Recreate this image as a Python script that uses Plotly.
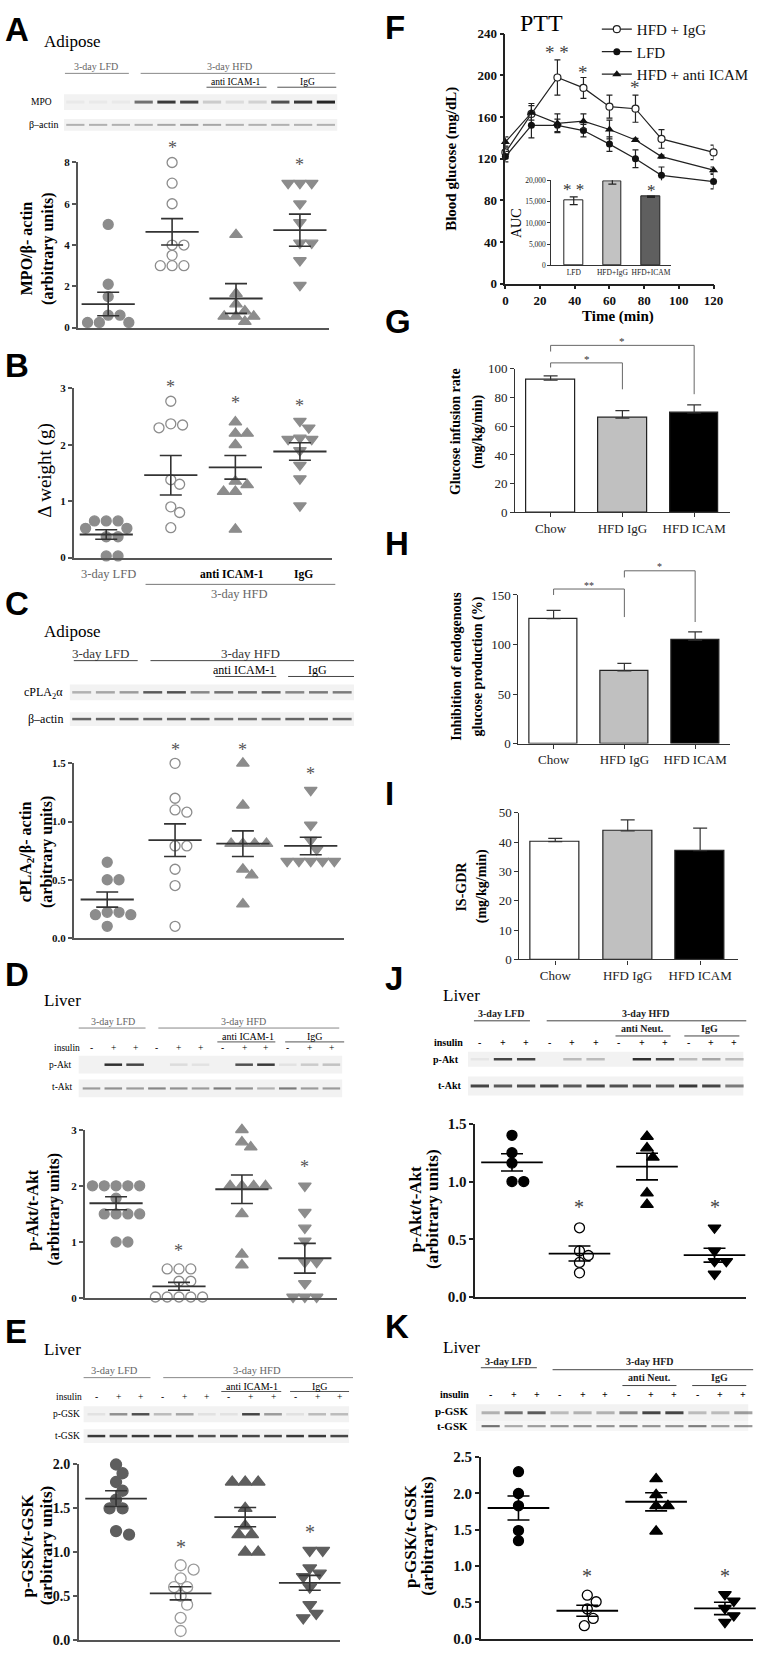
import plotly.graph_objects as go

W, H = 772, 1655
SERIF = "Liberation Serif"
SANS = "Liberation Sans"

# ===================== DATA =====================
groups_bar = ["Chow", "HFD IgG", "HFD ICAM"]

# A  MPO / beta-actin (adipose)
A_lfd = [5.0, 2.1, 1.5, 0.6, 0.6, 0.25, 0.25, 0.25]
A_hfd = [8.0, 7.0, 6.0, 4.0, 4.0, 3.5, 3.0, 3.0, 3.0]
A_anti = [4.5, 1.65, 1.14, 0.8, 0.54, 0.54, 0.54, 0.29]
A_igg = [7.0, 7.0, 7.0, 6.0, 5.1, 4.1, 4.1, 3.25, 2.05]
A_mean = [1.14, 4.64, 1.41, 4.72]
A_sem = [0.57, 0.64, 0.72, 0.78]
A_star = [None, 8.85, None, 8.05]

# B  delta weight
B_lfd = [0.65, 0.65, 0.65, 0.52, 0.52, 0.37, 0.37, 0.03, 0.03]
B_hfd = [2.77, 2.37, 2.35, 2.30, 1.38, 1.30, 0.90, 0.80, 0.53]
B_anti = [2.40, 2.20, 2.20, 2.00, 1.35, 1.29, 1.17, 1.17, 0.50]
B_igg = [2.42, 2.30, 2.12, 2.10, 2.10, 1.90, 1.64, 1.40, 0.92]
B_mean = [0.41, 1.46, 1.60, 1.88]
B_sem = [0.085, 0.35, 0.21, 0.155]
B_star = [None, 3.08, 2.80, 2.75]

# C  cPLA2 / beta-actin
C_lfd = [0.65, 0.50, 0.50, 0.22, 0.22, 0.20, 0.20, 0.10]
C_hfd = [1.50, 1.20, 1.10, 1.08, 0.79, 0.79, 0.59, 0.45, 0.10]
C_anti = [1.50, 1.14, 0.81, 0.81, 0.81, 0.81, 0.59, 0.54, 0.29]
C_igg = [1.27, 0.97, 0.84, 0.76, 0.66, 0.66, 0.66, 0.66, 0.66]
C_mean = [0.33, 0.84, 0.81, 0.79]
C_sem = [0.065, 0.14, 0.11, 0.075]
C_star = [None, 1.64, 1.64, 1.44]

# D  p-Akt / t-Akt (liver, anti ICAM-1)
D_lfd = [2.0, 2.0, 2.0, 2.0, 2.0, 1.78, 1.5, 1.5, 1.5, 1.5, 1.0, 1.0]
D_hfd = [0.52, 0.52, 0.52, 0.30, 0.30, 0.02, 0.02, 0.02, 0.02, 0.02]
D_anti = [3.0, 2.78, 2.69, 2.0, 2.0, 2.0, 2.0, 1.5, 0.78, 0.59]
D_igg = [2.0, 1.53, 1.25, 1.02, 0.64, 0.64, 0.26, 0.02, 0.02, 0.02]
D_mean = [1.69, 0.21, 1.94, 0.71]
D_sem = [0.115, 0.07, 0.255, 0.265]
D_star = [None, 0.90, None, 2.40]

# E  p-GSK / t-GSK (liver, anti ICAM-1)
E_lfd = [2.0, 1.9, 1.8, 1.7, 1.6, 1.5, 1.5, 1.24, 1.2]
E_hfd = [0.85, 0.80, 0.70, 0.60, 0.60, 0.50, 0.40, 0.25, 0.10]
E_anti = [1.8, 1.8, 1.8, 1.5, 1.3, 1.2, 1.2, 1.0, 1.0]
E_igg = [1.02, 1.02, 0.82, 0.76, 0.72, 0.60, 0.40, 0.30, 0.25]
E_mean = [1.61, 0.53, 1.40, 0.65]
E_sem = [0.09, 0.075, 0.11, 0.085]
E_star = [None, 1.10, None, 1.27]

# F  PTT
time_min = [0, 15, 30, 45, 60, 75, 90, 120]
F_igg = [126, 163, 198, 188, 170, 168, 139, 126]
F_igg_err = [6, 10, 17, 10, 11, 13, 9, 7]
F_lfd = [122, 152, 152, 147, 134, 120, 104, 98]
F_lfd_err = [5, 12, 6, 6, 7, 8.5, 8, 7]
F_anti = [136, 164, 154, 156, 148, 138, 122, 109]
F_anti_err = [5, 7, 9, 7, 9, 1.5, 1.5, 3]
F_star_t = [30, 45, 75]
F_star_y = [225, 206, 191]
F_star_txt = ["* *", "*", "*"]
auc_groups = ["LFD", "HFD+IgG", "HFD+ICAM"]
auc = [15200, 19800, 16150]
auc_err = [900, 700, 150]
auc_star = ["* *", "", "*"]
auc_star_y = [18600, None, 18400]

# G  glucose infusion rate
gir = [92.0, 65.7, 69.2]
gir_err = [3.0, 5.1, 5.7]
# H  inhibition of endogenous glucose production
egp = [126.0, 73.4, 104.4]
egp_err = [8.4, 7.6, 8.3]
# I  IS-GDR
isgdr = [40.2, 43.8, 37.1]
isgdr_err = [1.1, 3.8, 7.7]

# J  p-Akt / t-Akt (liver, anti Neut.)
J_lfd = [1.40, 1.25, 1.16, 1.00, 1.00]
J_hfd = [0.60, 0.40, 0.36, 0.30, 0.21]
J_anti = [1.39, 1.29, 1.21, 0.90, 0.80]
J_igg = [0.60, 0.40, 0.31, 0.31, 0.20]
J_mean = [1.166, 0.377, 1.13, 0.363]
J_sem = [0.075, 0.065, 0.115, 0.06]
J_star = [None, 0.81, None, 0.81]

# K  p-GSK / t-GSK (liver, anti Neut.)
K_lfd = [2.30, 2.00, 1.83, 1.49, 1.35]
K_hfd = [0.60, 0.51, 0.41, 0.28, 0.18]
K_anti = [2.20, 1.98, 1.83, 1.83, 1.48]
K_igg = [0.61, 0.52, 0.42, 0.32, 0.23]
K_mean = [1.80, 0.386, 1.886, 0.418]
K_sem = [0.165, 0.075, 0.125, 0.085]
K_star = [None, 0.91, None, 0.91]

# western blot band intensities (12 lanes)
insulin_signs = ["-", "+", "+", "-", "+", "+", "-", "+", "+", "-", "+", "+"]
A_mpo = [0.04, 0.04, 0.04, 0.6, 0.85, 0.8, 0.18, 0.1, 0.15, 0.75, 0.85, 0.95]
A_actin = [0.3, 0.3, 0.3, 0.3, 0.35, 0.4, 0.35, 0.3, 0.3, 0.3, 0.3, 0.3]
C_cpla = [0.3, 0.35, 0.4, 0.7, 0.75, 0.5, 0.6, 0.6, 0.65, 0.5, 0.55, 0.55]
C_actin = [0.65, 0.65, 0.65, 0.65, 0.65, 0.65, 0.6, 0.6, 0.6, 0.65, 0.65, 0.65]
D_pakt = [0.0, 0.9, 0.8, 0.0, 0.1, 0.07, 0.0, 0.75, 0.85, 0.07, 0.18, 0.22]
D_takt = [0.4, 0.45, 0.4, 0.5, 0.45, 0.4, 0.55, 0.45, 0.3, 0.55, 0.4, 0.4]
E_pgsk = [0.07, 0.45, 0.75, 0.25, 0.35, 0.08, 0.07, 0.8, 0.4, 0.08, 0.25, 0.25]
E_tgsk = [0.85, 0.8, 0.85, 0.85, 0.8, 0.75, 0.8, 0.8, 0.8, 0.85, 0.85, 0.8]
J_pakt = [0.05, 0.8, 0.8, 0.0, 0.25, 0.25, 0.0, 0.9, 0.8, 0.25, 0.35, 0.25]
J_takt = [0.8, 0.7, 0.75, 0.8, 0.7, 0.8, 0.75, 0.75, 0.7, 0.85, 0.8, 0.55]
K_pgsk = [0.3, 0.6, 0.7, 0.25, 0.3, 0.3, 0.5, 0.8, 0.8, 0.25, 0.25, 0.4]
K_tgsk = [0.6, 0.35, 0.4, 0.45, 0.45, 0.45, 0.5, 0.45, 0.45, 0.55, 0.4, 0.45]

# ===================== HELPERS =====================
fig = go.Figure()
layout = {}
annotations = []
shapes = []
_axn = [0]
AXMAP = {}


def px(x):
    return x / W


def py(y):
    return 1 - y / H


def T(x, y, s, size=10, color="#000", bold=False, xanchor="center", family=SERIF, angle=0):
    if bold:
        s = "<b>" + s + "</b>"
    annotations.append(dict(x=px(x), y=py(y), xref="paper", yref="paper", text=s, showarrow=False,
                            xanchor=xanchor, yanchor="middle", textangle=angle,
                            font=dict(size=size, color=color, family=family)))


def L(x0, y0, x1, y1, color="#666", width=1):
    shapes.append(dict(type="line", xref="paper", yref="paper", x0=px(x0), y0=py(y0), x1=px(x1), y1=py(y1),
                       line=dict(color=color, width=width)))


def R(x0, y0, x1, y1, fill):
    shapes.append(dict(type="rect", xref="paper", yref="paper", x0=px(x0), y0=py(y0), x1=px(x1), y1=py(y1),
                       fillcolor=fill, line=dict(width=0), layer="below"))


def blot(x0, x1, y0, y1, intens, centers=None, band_h=2.5, bg="#f2f2f2"):
    R(x0, y0, x1, y1, bg)
    n = len(intens)
    lw = (x1 - x0) / n
    if centers is None:
        centers = [x0 + lw * (i + 0.5) for i in range(n)]
    cy = (y0 + y1) / 2
    for c, a in zip(centers, intens):
        if a > 0.01:
            R(c - lw * 0.4, cy - band_h / 2, c + lw * 0.4, cy + band_h / 2, "rgba(25,25,25,%.2f)" % a)


def lanes(first, last, n=12):
    return [first + (last - first) * i / (n - 1) for i in range(n)]


def make_axes(xpx, ypx, xr, yr, xs, ys):
    _axn[0] += 1
    n = _axn[0]
    s = "" if n == 1 else str(n)
    layout["xaxis" + s] = dict(domain=[px(xpx[0]), px(xpx[1])], range=xr, anchor="y" + s, **xs)
    layout["yaxis" + s] = dict(domain=[py(ypx[1]), py(ypx[0])], range=yr, anchor="x" + s, **ys)
    AXMAP["x" + s] = (xpx, xr)
    AXMAP["y" + s] = (ypx, yr)
    return "x" + s, "y" + s


def dx(xa, v):
    (p0, p1), (r0, r1) = AXMAP[xa]
    return p0 + (v - r0) / (r1 - r0) * (p1 - p0)


def dy(ya, v):
    (p0, p1), (r0, r1) = AXMAP[ya]
    return p1 - (v - r0) / (r1 - r0) * (p1 - p0)


def swarm(vals, ppu_y, ppu_x, ms):
    order = sorted(range(len(vals)), key=lambda i: -vals[i])
    placed = []
    offs = [0.0] * len(vals)
    step = ms * 0.3
    cands = sorted([k * step for k in range(-12, 13)], key=lambda o: (abs(o), o < 0))
    for i in order:
        yy = vals[i] * ppu_y
        for o in cands:
            ok = True
            for (ox, oy) in placed:
                if (ox - o) ** 2 + (oy - yy) ** 2 < (ms * 1.0) ** 2:
                    ok = False
                    break
            if ok:
                break
        placed.append((o, yy))
        offs[i] = o / ppu_x
    return offs


SYMS = ["circle", "circle", "triangle-up", "triangle-down"]


def dot_panel(vals_list, means, sems, stars, xpx, ypx, centers, yr, ytickvals, ytickfmt, st):
    d = (centers[-1] - centers[0]) / (len(centers) - 1)
    xr = [1 + (xpx[0] - centers[0]) / d, 1 + (xpx[1] - centers[0]) / d]
    ppu_y = (ypx[1] - ypx[0]) / (yr[1] - yr[0])
    ac = st["axis"]
    xs = dict(showgrid=False, zeroline=False, showline=True, linecolor=ac, linewidth=1.5,
              ticks="", showticklabels=False)
    ys = dict(showgrid=False, zeroline=False, showline=True, linecolor=ac, linewidth=1.5,
              ticks="outside", ticklen=4, tickwidth=1.5, tickcolor=ac, tickvals=ytickvals,
              tickformat=ytickfmt,
              tickfont=dict(family=SERIF, size=st["tick"], color="#111", weight="bold"))
    xa, ya = make_axes(xpx, ypx, xr, yr, xs, ys)
    ms = st["ms"]
    for g, vals in enumerate(vals_list):
        offs = swarm(vals, ppu_y, d, ms)
        fig.add_trace(go.Scatter(
            x=[g + 1 + o for o in offs], y=vals, mode="markers", xaxis=xa, yaxis=ya,
            showlegend=False, cliponaxis=False, hoverinfo="skip",
            marker=dict(symbol=SYMS[g], size=ms + (1 if g >= 2 else 0), color=st["fill"][g],
                        line=dict(color=st["edge"][g], width=1.3))))
    fig.add_trace(go.Scatter(
        x=list(range(1, len(means) + 1)), y=means, mode="markers", xaxis=xa, yaxis=ya,
        showlegend=False, cliponaxis=False, hoverinfo="skip",
        marker=dict(symbol="line-ew", size=st["meanw"], color=st["mean"],
                    line=dict(color=st["mean"], width=1.8)),
        error_y=dict(type="data", array=sems, visible=True, width=st["cap"], thickness=1.6,
                     color=st["mean"])))
    for g, yv in enumerate(stars):
        if yv is not None:
            T(dx(xa, g + 1), dy(ya, yv) + st["star"] * 0.18, "*", size=st["star"], color=st["starc"])
    return xa, ya


GR = "#8c8c8c"
st_gray = dict(axis="#555", fill=[GR, "white", GR, GR], edge=[GR, GR, GR, GR], mean="#333",
               ms=10, tick=11, meanw=38, cap=11, star=18, starc="#555")
DG = "#5e5e5e"
st_dark = dict(axis="#555", fill=[DG, "white", DG, DG], edge=[DG, "#9a9a9a", DG, DG], mean="#333",
               ms=11, tick=14, meanw=44, cap=11, star=20, starc="#555")
st_black = dict(axis="#222", fill=["black", "white", "black", "black"],
                edge=["black", "black", "black", "black"], mean="black",
                ms=10, tick=15, meanw=44, cap=11, star=20, starc="#444")

# ===================== PANEL LETTERS =====================
for lt, x, y in [("A", 0, 22), ("B", 0, 361), ("C", 0, 601), ("D", 0, 976), ("E", 0, 1336),
                 ("F", 386, 20), ("G", 386, 317), ("H", 386, 541), ("I", 386, 793),
                 ("J", 386, 980), ("K", 386, 1331)]:
    T(x, y, lt, size=33, bold=True, xanchor="left", family=SANS)

# ===================== PANEL A =====================
T(40, 34, "Adipose", size=17, xanchor="left")
T(95, 59, "3-day LFD", size=10, color="#666")
L(63, 66, 128, 66, "#888")
T(230, 59, "3-day HFD", size=10, color="#666")
L(140, 66, 338, 66, "#888")
T(237, 75, "anti ICAM-1", size=9.5)
L(207, 80, 268, 80, "#555")
T(310, 75, "IgG", size=9.5)
L(279, 80, 339, 80, "#555")
T(52, 95, "MPO", size=9.5, xanchor="right")
T(59, 118, "β–actin", size=10, xanchor="right")
blot(62, 340, 87, 103, A_mpo, band_h=3)
blot(62, 340, 112, 124, A_actin, band_h=2)
dot_panel([A_lfd, A_hfd, A_anti, A_igg], A_mean, A_sem, A_star,
          [76, 332], [156, 322.7], [107, 172, 236, 302], [0, 8], [0, 2, 4, 6, 8], "d", st_gray)
T(24, 243, "MPO/β- actin", size=16, bold=True, angle=-90)
T(45, 243, "(arbitrary units)", size=16, bold=True, angle=-90)

# ===================== PANEL B =====================
dot_panel([B_lfd, B_hfd, B_anti, B_igg], B_mean, B_sem, B_star,
          [72, 335], [384, 555], [105, 171, 237, 302], [0, 3], [0, 1, 2, 3], "d", st_gray)
T(43, 467, "Δ weight (g)", size=19, angle=-90)
T(107, 572, "3-day LFD", size=12.5, color="#666")
T(233, 572, "anti ICAM-1", size=11.5, bold=True)
T(306, 572, "IgG", size=11.5, bold=True)
L(145, 582, 338, 582, "#777")
T(241, 592, "3-day HFD", size=12.5, color="#666")

# ===================== PANEL C =====================
T(40, 630, "Adipose", size=17, xanchor="left")
T(99, 652, "3-day LFD", size=13, color="#333")
L(72, 659, 137, 659, "#444")
T(252, 652, "3-day HFD", size=13, color="#333")
L(150, 659, 357, 659, "#444")
T(245, 668, "anti ICAM-1", size=12)
L(216, 675, 278, 675, "#444")
T(320, 668, "IgG", size=12)
L(290, 675, 357, 675, "#444")
T(63, 692, "cPLA<sub>2</sub>α", size=12, xanchor="right")
T(63, 718, "β–actin", size=12, xanchor="right")
blot(68, 357, 683, 699, C_cpla, band_h=2.5)
blot(68, 357, 711, 725, C_actin, band_h=2.5)
dot_panel([C_lfd, C_hfd, C_anti, C_igg], C_mean, C_sem, C_star,
          [72, 347], [762.7, 939], [106, 173, 244, 313], [0, 1.5], [0, 0.5, 1.0, 1.5], ".1f", st_gray)
T(24, 852, "cPLA<sub>2</sub>/β- actin", size=16, bold=True, angle=-90)
T(45, 852, "(arbitrary units)", size=16, bold=True, angle=-90)

# ===================== PANEL D =====================
T(40, 1002, "Liver", size=17, xanchor="left")
T(112, 1023, "3-day LFD", size=10, color="#666")
L(77, 1030, 145, 1030, "#888")
T(245, 1023, "3-day HFD", size=10, color="#666")
L(158, 1030, 342, 1030, "#888")
T(249, 1039, "anti ICAM-1", size=10)
L(218, 1044, 277, 1044, "#555")
T(317, 1039, "IgG", size=10)
L(287, 1044, 347, 1044, "#555")
D_lanes = lanes(90, 334)
T(80, 1050, "insulin", size=9.5, xanchor="right")
for xl, s in zip(D_lanes, insulin_signs):
    T(xl, 1050, s, size=9.5)
T(72, 1067, "p-Akt", size=9.5, xanchor="right")
T(72, 1090, "t-Akt", size=9.5, xanchor="right")
blot(77, 345, 1058, 1076, D_pakt, centers=D_lanes, band_h=2.5)
blot(77, 345, 1082, 1100, D_takt, centers=D_lanes, band_h=2.2)
dot_panel([D_lfd, D_hfd, D_anti, D_igg], D_mean, D_sem, D_star,
          [83, 340], [1132.7, 1302.7], [115, 180, 244, 307], [0, 3], [0, 1, 2, 3], "d", st_gray)
T(31, 1213, "p-Akt/t-Akt", size=16, bold=True, angle=-90)
T(52, 1213, "(arbitrary units)", size=16, bold=True, angle=-90)

# ===================== PANEL E =====================
T(40, 1355, "Liver", size=17, xanchor="left")
T(113, 1376, "3-day LFD", size=10.5, color="#666")
L(82, 1383, 150, 1383, "#888")
T(258, 1376, "3-day HFD", size=10.5, color="#666")
L(163, 1383, 356, 1383, "#888")
T(253, 1392, "anti ICAM-1", size=10)
L(222, 1397, 283, 1397, "#555")
T(322, 1392, "IgG", size=10)
L(292, 1397, 352, 1397, "#555")
E_lanes = lanes(95, 342)
T(82, 1403, "insulin", size=9.5, xanchor="right")
for xl, s in zip(E_lanes, insulin_signs):
    T(xl, 1403, s, size=9.5)
T(80, 1420, "p-GSK", size=9.5, xanchor="right")
T(80, 1442, "t-GSK", size=9.5, xanchor="right")
blot(82, 352, 1412, 1428, E_pgsk, centers=E_lanes, band_h=2.5)
blot(82, 352, 1435, 1449, E_tgsk, centers=E_lanes, band_h=2.5)
dot_panel([E_lfd, E_hfd, E_anti, E_igg], E_mean, E_sem, E_star,
          [77, 343], [1470.7, 1647.7], [115, 180, 246, 312], [0, 2], [0, 0.5, 1.0, 1.5, 2.0], ".1f", st_dark)
T(25, 1553, "p-GSK/t-GSK", size=17, bold=True, angle=-90)
T(45, 1553, "(arbitrary units)", size=17, bold=True, angle=-90)

# ===================== PANEL F =====================
axstyle_F = dict(showgrid=False, zeroline=False, showline=True, linecolor="#222", linewidth=1.5,
                 ticks="outside", ticklen=4, tickwidth=1.5, tickcolor="#222",
                 tickfont=dict(family=SERIF, size=13, color="#111", weight="bold"))
fxa, fya = make_axes([511, 722.7], [26, 278.3], [0, 120], [0, 240],
                     dict(axstyle_F, tickvals=[0, 20, 40, 60, 80, 100, 120]),
                     dict(axstyle_F, tickvals=[0, 40, 80, 120, 160, 200, 240]))
fig.add_trace(go.Scatter(x=time_min, y=F_igg, name="HFD + IgG", mode="lines+markers", xaxis=fxa, yaxis=fya,
                         cliponaxis=False, line=dict(color="#222", width=1.2),
                         marker=dict(symbol="circle", size=7, color="white", line=dict(color="#222", width=1.2)),
                         error_y=dict(type="data", array=F_igg_err, visible=True, width=3, thickness=1.2,
                                      color="#222")))
fig.add_trace(go.Scatter(x=time_min, y=F_lfd, name="LFD", mode="lines+markers", xaxis=fxa, yaxis=fya,
                         cliponaxis=False, line=dict(color="#222", width=1.2),
                         marker=dict(symbol="circle", size=7, color="#111"),
                         error_y=dict(type="data", array=F_lfd_err, visible=True, width=3, thickness=1.2,
                                      color="#222")))
fig.add_trace(go.Scatter(x=time_min, y=F_anti, name="HFD + anti ICAM", mode="lines+markers", xaxis=fxa,
                         yaxis=fya, cliponaxis=False, line=dict(color="#222", width=1.2),
                         marker=dict(symbol="triangle-up", size=8, color="#111"),
                         error_y=dict(type="data", array=F_anti_err, visible=True, width=3, thickness=1.2,
                                      color="#222")))
for t_, y_, s_ in zip(F_star_t, F_star_y, F_star_txt):
    T(dx(fxa, t_), dy(fya, y_) + 3, s_, size=19, color="#444")
T(548, 15, "PTT", size=24)
T(456, 152, "Blood glucose (mg/dL)", size=15, bold=True, angle=-90)
T(626, 312, "Time (min)", size=15, bold=True)

# inset AUC
inset_ax = dict(showgrid=False, zeroline=False, showline=True, linecolor="#333", linewidth=1,
                ticks="outside", ticklen=3, tickwidth=1, tickcolor="#333",
                tickfont=dict(family=SERIF, size=7.5, color="#222"))
ixa, iya = make_axes([557.7, 679], [174, 260], [-0.58, 2.506], [0, 20000],
                     dict(inset_ax, tickvals=[0, 1, 2], ticktext=auc_groups, ticks=""),
                     dict(inset_ax, tickvals=[0, 5000, 10000, 15000, 20000], tickformat=","))
fig.add_trace(go.Bar(x=[0, 1, 2], y=auc, width=0.48, xaxis=ixa, yaxis=iya, showlegend=False,
                     marker=dict(color=["white", "#c2c2c2", "#5f5f5f"], line=dict(color="#222", width=1)),
                     error_y=dict(type="data", array=auc_err, visible=True, width=4, thickness=1.2,
                                  color="#222")))
for i, (s_, y_) in enumerate(zip(auc_star, auc_star_y)):
    if s_:
        T(dx(ixa, i), dy(iya, y_) + 3, s_, size=17, color="#333")
T(523, 217, "AUC", size=14, angle=-90)

# ===================== BAR PANELS G, H, I =====================
bar_colors = ["white", "#c0c0c0", "black"]


def bar_panel(vals, errs, xpx, ypx, xr, yr, ytick):
    ax = dict(showgrid=False, zeroline=False, showline=True, linecolor="#333", linewidth=1.2,
              ticks="outside", ticklen=4, tickwidth=1.2, tickcolor="#333",
              tickfont=dict(family=SERIF, size=13, color="#222"))
    xa, ya = make_axes(xpx, ypx, xr, yr, dict(ax, tickvals=[0, 1, 2], ticktext=groups_bar),
                       dict(ax, tickvals=ytick))
    fig.add_trace(go.Bar(x=[0, 1, 2], y=vals, width=0.68, xaxis=xa, yaxis=ya, showlegend=False,
                         marker=dict(color=bar_colors, line=dict(color="#222", width=1.2)),
                         error_y=dict(type="data", array=errs, arrayminus=[0, 0, 0], symmetric=False,
                                      visible=True, width=7, thickness=1.2, color="#333")))
    return xa, ya


def bracket(xa, ya, x0, x1, ytop, yl, yr_, star, size):
    X0, X1 = dx(xa, x0), dx(xa, x1)
    YT, YL, YR = dy(ya, ytop), dy(ya, yl), dy(ya, yr_)
    L(X0, YL, X0, YT, "#666", 1)
    L(X0, YT, X1, YT, "#666", 1)
    L(X1, YT, X1, YR, "#666", 1)
    T((X0 + X1) / 2, YT - 4, star, size=size, color="#333")


gxa, gya = bar_panel(gir, gir_err, [521, 739], [364.3, 509.3], [-0.493, 2.493], [0, 100],
                     [0, 20, 40, 60, 80, 100])
bracket(gxa, gya, 0, 2, 116.3, 112, 82.3, "*", 11)
bracket(gxa, gya, 0, 1, 104.1, 100.9, 85.7, "*", 11)
T(461, 428, "Glucose infusion rate", size=14, bold=True, angle=-90)
T(483, 428, "(mg/kg/min)", size=14, bold=True, angle=-90)

hxa, hya = bar_panel(egp, egp_err, [524.3, 739], [592.7, 742.7], [-0.496, 2.486], [0, 150],
                     [0, 50, 100, 150])
bracket(hxa, hya, 0, 1, 156, 150, 127.7, "**", 10)
bracket(hxa, hya, 1, 2, 174.4, 167.7, 122.7, "*", 10)
T(461, 665, "Inhibition of endogenous", size=14, bold=True, angle=-90)
T(483, 665, "glucose production (%)", size=14, bold=True, angle=-90)

ixa2, iya2 = bar_panel(isgdr, isgdr_err, [525.3, 747.7], [812.7, 960.7], [-0.494, 2.524], [0, 50],
                       [0, 10, 20, 30, 40, 50])
T(466, 887, "IS-GDR", size=14, bold=True, angle=-90)
T(488, 887, "(mg/kg/min)", size=14, bold=True, angle=-90)

# ===================== PANEL J =====================
T(446, 997, "Liver", size=17, xanchor="left")
T(507, 1015, "3-day LFD", size=10, bold=True, color="#222")
L(479, 1022.7, 536, 1022.7, "#444")
T(654, 1015, "3-day HFD", size=10, bold=True, color="#222")
L(553, 1022.7, 756, 1022.7, "#444")
T(650, 1030, "anti Neut.", size=10, bold=True, color="#222")
L(623, 1038, 679, 1038, "#444")
T(719, 1030, "IgG", size=10, bold=True, color="#222")
L(693, 1038, 749, 1038, "#444")
J_lanes = lanes(485, 744)
T(470, 1045, "insulin", size=10, bold=True, xanchor="right")
for xl, s in zip(J_lanes, insulin_signs):
    T(xl, 1045, s, size=10, bold=True)
T(466, 1061.7, "p-Akt", size=10, bold=True, xanchor="right")
T(468, 1088, "t-Akt", size=10, bold=True, xanchor="right")
blot(473, 753, 1054, 1069, J_pakt, centers=J_lanes, band_h=2.5)
blot(473, 753, 1079, 1098, J_takt, centers=J_lanes, band_h=3)
dot_panel([J_lfd, J_hfd, J_anti, J_igg], J_mean, J_sem, J_star,
          [480.3, 756], [1126.7, 1301.7], [517.7, 585.3, 654.3, 723.7], [0, 1.5],
          [0, 0.5, 1.0, 1.5], ".1f", st_black)
T(419, 1213, "p-Akt/t-Akt", size=17, bold=True, angle=-90)
T(437, 1213, "(arbitrary units)", size=17, bold=True, angle=-90)

# ===================== PANEL K =====================
T(446, 1353, "Liver", size=17, xanchor="left")
T(514, 1367, "3-day LFD", size=10, bold=True, color="#222")
L(486, 1373, 543, 1373, "#444")
T(658, 1367, "3-day HFD", size=10, bold=True, color="#222")
L(559, 1375, 763, 1375, "#444")
T(658, 1383, "anti Neut.", size=10, bold=True, color="#222")
L(630, 1391, 685, 1391, "#444")
T(729, 1383, "IgG", size=10, bold=True, color="#222")
L(701, 1391, 756, 1391, "#444")
K_lanes = lanes(496, 753)
T(476, 1400, "insulin", size=10, bold=True, xanchor="right")
for xl, s in zip(K_lanes, insulin_signs):
    T(xl, 1400, s, size=10, bold=True)
T(475, 1417, "p-GSK", size=11, bold=True, xanchor="right")
T(475, 1432, "t-GSK", size=11, bold=True, xanchor="right")
blot(481, 758, 1410, 1427, K_pgsk, centers=K_lanes, band_h=3)
blot(481, 758, 1427, 1437, K_tgsk, centers=K_lanes, band_h=2.2, bg="#f6f6f6")
dot_panel([K_lfd, K_hfd, K_anti, K_igg], K_mean, K_sem, K_star,
          [486, 762.7], [1463.3, 1646.7], [524.3, 594.3, 665.3, 734.3], [0, 2.5],
          [0, 0.5, 1.0, 1.5, 2.0, 2.5], ".1f", st_black)
T(414, 1543, "p-GSK/t-GSK", size=17, bold=True, angle=-90)
T(431, 1543, "(arbitrary units)", size=17, bold=True, angle=-90)

# ===================== LAYOUT =====================
layout.update(dict(
    width=W, height=H, autosize=False, margin=dict(l=0, r=0, t=0, b=0),
    paper_bgcolor="white", plot_bgcolor="white", showlegend=True,
    legend=dict(x=px(604), y=py(5), xanchor="left", yanchor="top", bgcolor="rgba(0,0,0,0)",
                font=dict(family=SERIF, size=15, color="#111"), tracegroupgap=0, itemwidth=30),
    annotations=annotations, shapes=shapes, bargap=0,
))
fig.update_layout(**layout)
fig.write_html("out.html", config={"displayModeBar": False},
               post_script="document.body.style.margin='0';")
